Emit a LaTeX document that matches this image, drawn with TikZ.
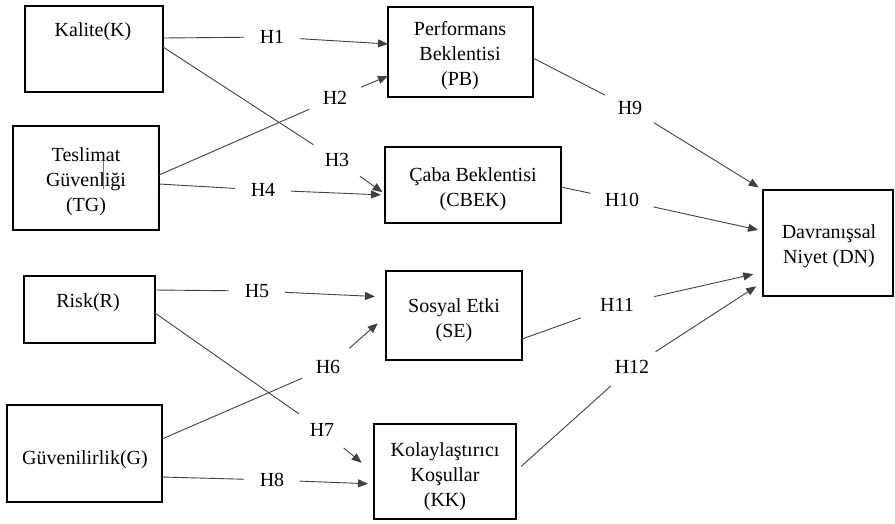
\documentclass[tikz,border=0pt]{standalone}
\usepackage{fontspec}
\setmainfont{Liberation Serif}
\usetikzlibrary{arrows.meta}
\begin{document}
\begin{tikzpicture}[x=1pt,y=-1pt,
  box/.style={draw=black,line width=1.5pt,rectangle,inner sep=0pt,outer sep=0pt},
  txt/.style={font=\fontsize{20}{25}\selectfont,align=center,inner sep=0pt,text=black},
  hyp/.style={circle,minimum size=56pt,inner sep=0pt,font=\fontsize{20}{25}\selectfont,text=black},
  conn/.style={line width=0.9pt,draw=black!75},
  arr/.style={conn,-{Triangle[length=10pt,width=8pt]}}]
\useasboundingbox (0,0) rectangle (895,523);

% boxes
\node[box,minimum width=138pt,minimum height=86pt] (K) at (94,49) {};
\node[box,minimum width=146pt,minimum height=104pt] (TG) at (86,178) {};
\node[box,minimum width=131pt,minimum height=67pt] (R) at (89.5,309.5) {};
\node[box,minimum width=155pt,minimum height=97pt] (G) at (84.5,453.5) {};
\node[box,minimum width=145pt,minimum height=90pt] (PB) at (460.5,52) {};
\node[box,minimum width=176pt,minimum height=76pt] (CBEK) at (473,185) {};
\node[box,minimum width=136pt,minimum height=89pt] (SE) at (454,315.5) {};
\node[box,minimum width=142pt,minimum height=95pt] (KK) at (445,471.5) {};
\node[box,minimum width=130pt,minimum height=106pt] (DN) at (828,243) {};

% texts
\node[txt,anchor=base] (Kt) at (93,36) {Kalite(K)};
\node[txt] (TGt) at (86,182) {Teslimat\\Güvenliği\\(TG)};
\node[txt,anchor=base] (Rt) at (88,307) {Risk(R)};
\node[txt,anchor=base] (Gt) at (85,464) {Güvenilirlik(G)};
\node[txt] (PBt) at (460,56) {Performans\\Beklentisi\\(PB)};
\node[txt] (CBEKt) at (473,189) {Çaba Beklentisi\\(CBEK)};
\node[txt] (SEt) at (454,320) {Sosyal Etki\\(SE)};
\node[txt] (KKt) at (445,477) {Kolaylaştırıcı\\Koşullar\\(KK)};
\node[txt] (DNt) at (829,246) {Davranışsal\\Niyet (DN)};

% stray mark in TG text
\draw[line width=0.8pt,draw=black!55] (103,161) -- (103,189);

% hypothesis labels
\node[hyp] (h1) at (272,37) {H1};
\node[hyp] (h2) at (335,98) {H2};
\node[hyp] (h3) at (337,160) {H3};
\node[hyp] (h4) at (263,190) {H4};
\node[hyp] (h5) at (257,291) {H5};
\node[hyp] (h6) at (328,367) {H6};
\node[hyp] (h7) at (322,430) {H7};
\node[hyp] (h8) at (272,480) {H8};
\node[hyp] (h9) at (630,108) {H9};
\node[hyp,minimum size=64pt] (h10) at (622,200) {H10};
\node[hyp,minimum size=76pt] (h11) at (617,305) {H11};
\node[hyp] (h12) at (632,367) {H12};

% connectors
\draw[conn] (K.east |- 0,38) -- (h1);
\draw[arr] (h1) -- (PB.west |- 0,44);
\draw[conn] (TG.east |- 0,175) -- (h2);
\draw[arr] (h2) -- (PB.west |- 0,76);
\draw[conn] (K.east |- 0,47) -- (h3);
\draw[arr,shorten >=3pt] (h3) -- (CBEK.west |- 0,194);
\draw[conn] (TG.east |- 0,184) -- (h4);
\draw[arr,shorten >=4pt] (h4) -- (CBEK.west |- 0,195);
\draw[conn] (R.east |- 0,290) -- (h5);
\draw[arr,shorten >=11pt] (h5) -- (SE.west |- 0,297);
\draw[conn] (G.east |- 0,439) -- (h6);
\draw[arr,shorten >=11pt] (h6) -- (SE.west |- 0,316);
\draw[conn] (R.east |- 0,313) -- (h7);
\draw[arr,shorten >=16pt] (h7) -- (KK.west |- 0,473);
\draw[conn] (G.east |- 0,477) -- (h8);
\draw[arr,shorten >=6pt] (h8) -- (KK.west |- 0,484);
\draw[conn] (PB.east |- 0,58) -- (h9);
\draw[arr,shorten >=5pt] (h9) -- (DN.north west);
\draw[conn] (CBEK.east |- 0,187) -- (h10);
\draw[arr,shorten >=5pt] (h10) -- (DN.west |- 0,231);
\draw[conn] (SE.east |- 0,339) -- (h11);
\draw[arr,shorten >=10pt] (h11) -- (DN.west |- 0,272);
\draw[conn,shorten <=7pt] (KK.east |- 0,471) -- (h12);
\draw[arr,shorten >=8pt] (h12) -- (DN.west |- 0,282);
\end{tikzpicture}
\end{document}
